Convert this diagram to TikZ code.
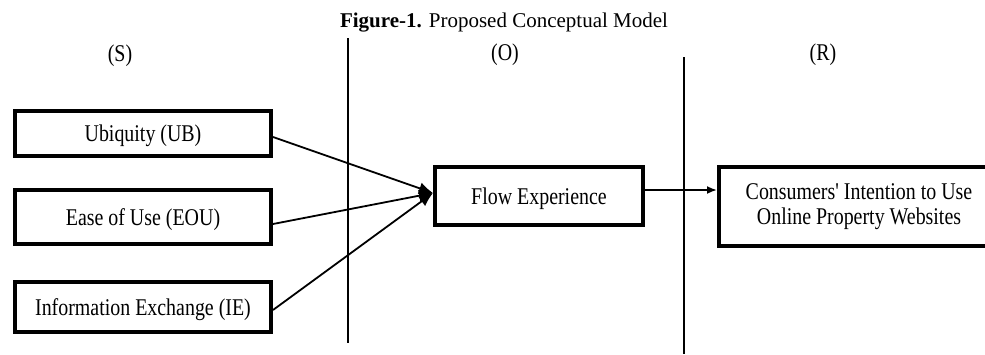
\documentclass[tikz,border=0pt]{standalone}
\usepackage{fontspec}
\setmainfont{Liberation Serif}
\newfontfamily\narrowfont{Liberation Serif}[FakeStretch=0.83]
\usetikzlibrary{arrows.meta}

\begin{document}
\begin{tikzpicture}[x=0.5pt, y=-0.5pt, every node/.style={inner sep=0pt},
		varbox/.style={draw, line width=2pt, minimum width=128pt, font=\narrowfont\fontsize{12}{12.5}\selectfont, text height=9pt, text depth=1pt},
		stage/.style={font=\narrowfont\fontsize{12}{12.5}\selectfont},
		conn/.style={line width=0.9pt, -{Latex[length=7pt,width=6pt]}}]
				\useasboundingbox (0,0) rectangle (985,354);
				\node [anchor=base] (title) at (504,27) {\fontsize{10.5}{12}\selectfont\textbf{Figure-1.} Proposed Conceptual Model};
				% stages
				\node [stage] (s) at (120,56) {(S)};
				\node [stage] (o) at (505,55) {(O)};
				\node [stage] (r) at (823,55) {(R)};
				\draw [line width=0.7pt] (348,38) -- (348,343);
				\draw [line width=0.7pt] (684,57) -- (684,354);
				% boxes
				\node [varbox, minimum height=22.5pt] (ub) at (143,133) {Ubiquity (UB)};
				\node [varbox, minimum height=27pt] (eou) at (143,217) {Ease of Use (EOU)};
				\node [varbox, minimum height=25pt] (ie) at (143,307) {Information Exchange (IE)};
				\node [varbox, minimum width=104pt, minimum height=29pt] (flow) at (539,196) {Flow Experience};
				\node [varbox, minimum width=140pt, minimum height=39.5pt, text height={}, text depth={}, align=center] (cons) at (859,206.5) {Consumers' Intention to Use\\Online Property Websites};
				\foreach \n/\d in {ub/-2pt,eou/-3.5pt,ie/-1.5pt}
				\draw [conn] ([yshift=\d]\n.east) -- ([yshift=1.5pt]flow.west);
				\draw [conn, -{Latex[length=5pt,width=4pt]}] ([yshift=3pt]flow.east) -- ([yshift=3pt]flow.east -| cons.west);
			\end{tikzpicture}
\end{document}
